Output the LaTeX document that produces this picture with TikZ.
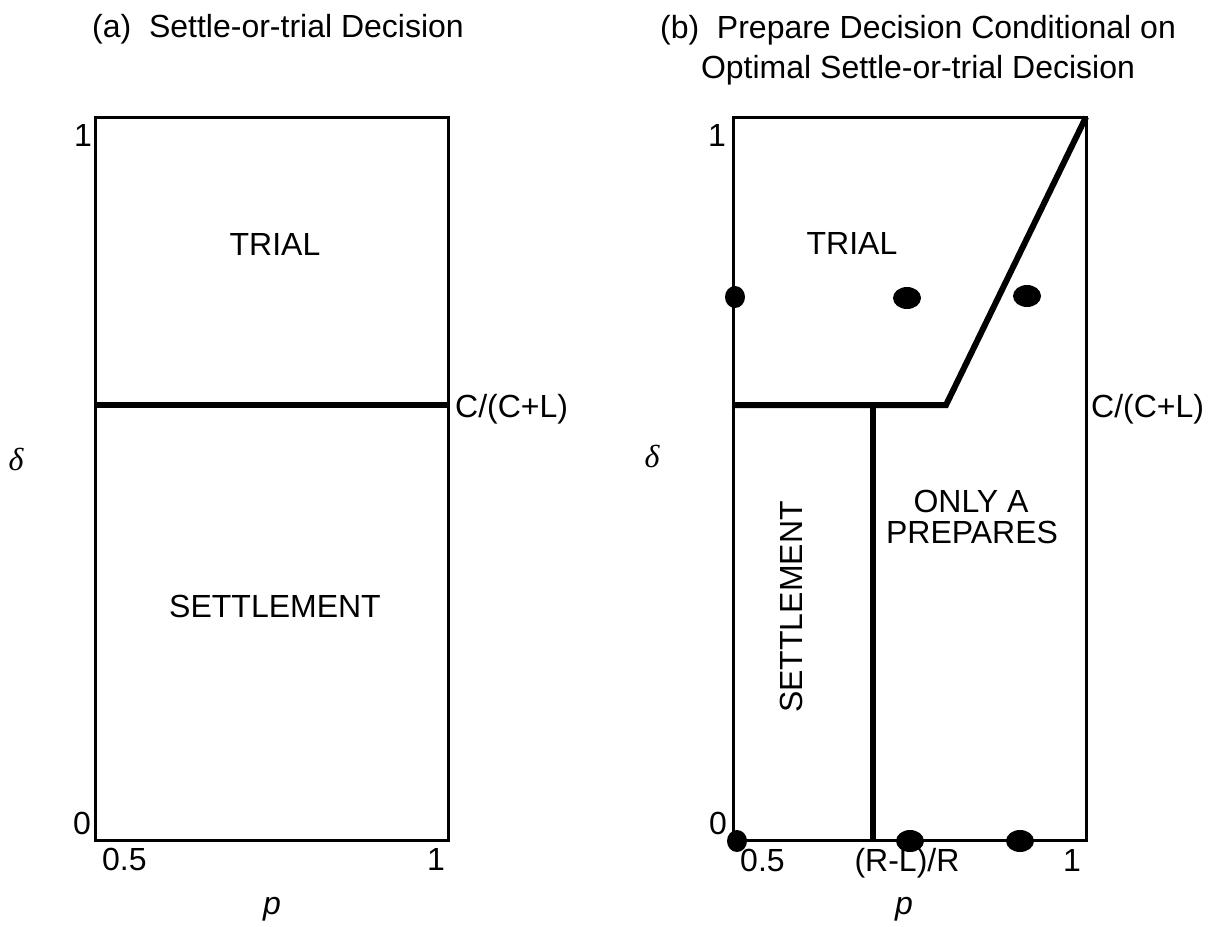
\documentclass[tikz,border=0pt]{standalone}
\usepackage{fontspec}
\setmainfont{Liberation Sans}
\newfontfamily\greekfont{Liberation Serif}
\usetikzlibrary{shapes.geometric,positioning}

\begin{document}
\begin{tikzpicture}[x=1pt,y=-1pt,
  every node/.style={inner sep=0pt,font=\fontsize{32}{32}\selectfont},
  frame/.style={line width=3pt},
  bound/.style={line width=6pt},
  dot/.style={ellipse,fill=black,minimum width=28pt,minimum height=22pt},
  edgedot/.style={dot,minimum width=20pt}]
\useasboundingbox (0,0) rectangle (1215,926);

% panel (a)
\coordinate (aNW) at (95,117);
\coordinate (aSE) at (448,840);
\coordinate (aCL) at (95,405);
\coordinate (aCR) at (448,405);
\draw [frame] (aNW) rectangle (aSE);
\draw [bound] (aCL) -- (aCR);
\node [anchor=base] (titleA) at (278,37) {(a)~~Settle-or-trial Decision};
\node [anchor=base] (trialA) at (275,255) {TRIAL};
\node [anchor=base] (settleA) at (275,617) {SETTLEMENT};
\node [anchor=base west] (cutA) at (455,417) {C/(C+L)};
\node [anchor=base east] (oneYA) at (92,146) {1};
\node [anchor=base east] (zeroYA) at (91,834) {0};
\node [anchor=base west] (halfA) at (102,870) {0.5};
\node [anchor=base] (oneXA) at (436,870) {1};
\node [anchor=base] (pA) at (272,914) {\itshape p};
\node [anchor=base] (deltaA) at (16,470) {\greekfont\itshape δ};

% panel (b)
\coordinate (bNW) at (733,117);
\coordinate (bSE) at (1086,840);
\coordinate (bNE) at (1086,117);
\coordinate (bCL) at (733,405);
\coordinate (bKink) at (946,405);
\coordinate (bVtop) at (873,405);
\coordinate (bVbot) at (873,840);
\draw [frame] (bNW) rectangle (bSE);
\draw [bound] (bCL) -- (bKink) -- (bNE);
\draw [bound] (bVtop) -- (bVbot);
\node [anchor=base] (titleB) at (918,38) {(b)~~Prepare Decision Conditional on};
\node [anchor=base] (titleB2) at (918,78) {Optimal Settle-or-trial Decision};
\node [anchor=base] (trialB) at (852,254) {TRIAL};
\node [anchor=base] (onlyB) at (971,512) {ONLY A};
\node [anchor=base] (prepB) at (972,543) {PREPARES};
\node [rotate=90] (settleB) at (791,607) {SETTLEMENT};
\node [anchor=base west] (cutB) at (1091,417) {C/(C+L)};
\node [anchor=base east] (oneYB) at (726,146) {1};
\node [anchor=base east] (zeroYB) at (727,834) {0};
\node [anchor=base west] (halfB) at (740,871) {0.5};
\node [anchor=base] (ratioB) at (907,871) {(R-L)/R};
\node [anchor=base] (oneXB) at (1072,871) {1};
\node [anchor=base] (pB) at (904,914) {\itshape p};
\node [anchor=base] (deltaB) at (652,467) {\greekfont\itshape δ};

% dots
\node [edgedot] (dotTL) at (735,297) {};
\node [dot] (dotTM) at (907,298) {};
\node [dot] (dotTR) at (1027,296) {};
\node [edgedot] (dotBL) at (737,841) {};
\node [dot] (dotBM) at (910,841) {};
\node [dot] (dotBR) at (1020,841) {};
\end{tikzpicture}
\end{document}
